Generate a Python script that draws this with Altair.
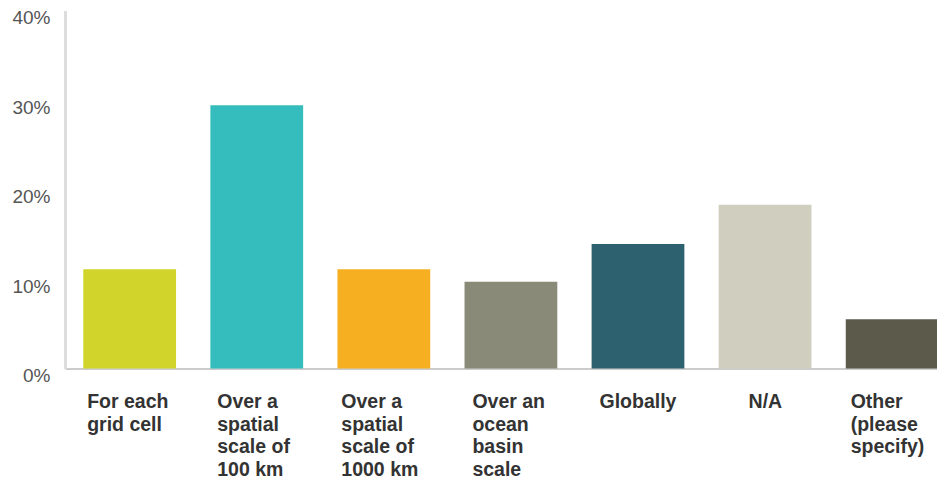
import json
import altair as alt
import pandas as pd

categories = [
    "For each|grid cell",
    "Over a|spatial|scale of|100 km",
    "Over a|spatial|scale of|1000 km",
    "Over an|ocean|basin|scale",
    "Globally",
    "N/A",
    "Other|(please|specify)",
]
values = [11.1, 29.4, 11.1, 9.7, 13.9, 18.3, 5.5]
colors = ["#d1d52b", "#35bdbd", "#f6af20", "#8a8a78", "#2e6170", "#d0cebf", "#5c5a4a"]
y_ticks = [0, 10, 20, 30, 40]

df = pd.DataFrame({"category": categories, "value": values, "idx": list(range(len(categories)))})

# label block offsets (styling: lines left-aligned, block roughly centred on its bar)
label_offsets = [-43, -40, -43, -39, -39, -17, -42]
offset_conditions = [
    {"test": f"datum.value == {i}", "value": off} for i, off in enumerate(label_offsets)
]

label_expr = "split(" + json.dumps(categories).replace('"', "'") + "[datum.value], '|')"

half = 0.365

chart = alt.Chart(df).transform_calculate(
    x0=f"datum.idx - {half}",
    x1=f"datum.idx + {half}",
).mark_rect().encode(
    x=alt.X(
        "x0:Q",
        title=None,
        scale=alt.Scale(domain=[-0.509, 6.353], nice=False, zero=False),
        axis=alt.Axis(
            values=list(range(len(categories))),
            labelExpr=label_expr,
            labelAngle=0,
            labelAlign="left",
            labelBaseline="top",
            labelOffset={"condition": offset_conditions, "value": -40},
            labelPadding=24,
            labelFont="Liberation Sans",
            labelFontWeight="bold",
            labelFontSize=19.5,
            labelColor="#333333",
            labelLineHeight=22.5,
            labelLimit=0,
            labelOverlap=False,
            labelFlush=False,
            ticks=False,
            grid=False,
            domainColor="#cccccc",
            domainWidth=2,
        ),
    ),
    x2="x1:Q",
    y=alt.Y(
        "value:Q",
        title=None,
        scale=alt.Scale(domain=[0, 40], nice=False),
        axis=alt.Axis(
            values=y_ticks,
            labelExpr="datum.value + '%'",
            labelBaseline="top",
            labelOffset=-2,
            labelPadding=15,
            labelFont="Liberation Sans",
            labelFontSize=19,
            labelColor="#555555",
            ticks=False,
            grid=True,
            gridColor="#ffffff",
            gridWidth=2,
            domainColor="#dddddd",
            domainWidth=3,
        ),
    ),
    y2=alt.datum(0),
    color=alt.Color(
        "category:N",
        scale=alt.Scale(domain=categories, range=colors),
        legend=None,
    ),
).properties(
    width=872,
    height=358,
    autosize=alt.AutoSizeParams(type="none"),
    padding={"left": 57, "top": 2.5, "right": 0, "bottom": 112},
).configure_view(
    fill="#efefef",
    strokeWidth=0,
).configure(
    font="Liberation Sans",
    background="#ffffff",
)

chart.save("out.html", embed_options={"renderer": "svg", "actions": False})
